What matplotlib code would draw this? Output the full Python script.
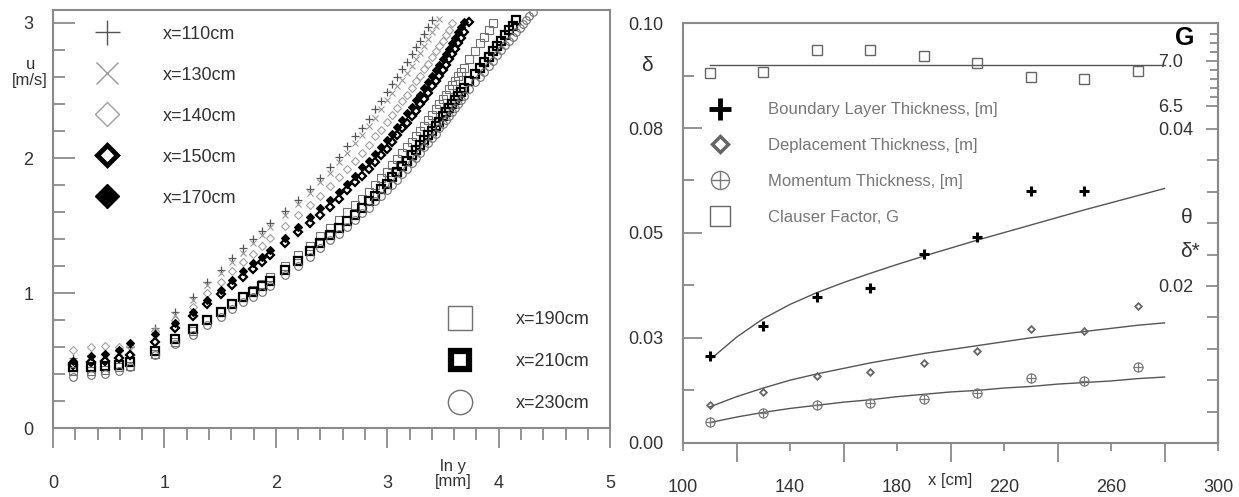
import numpy as np
import matplotlib.pyplot as plt
from matplotlib.lines import Line2D
from matplotlib.ticker import MultipleLocator, FixedLocator

plt.rcParams['font.family'] = ['Liberation Sans', 'DejaVu Sans']

# ---- left panel: velocity profiles u(ln y) at several stations ----
y_mm = [1.2, 1.4, 1.6, 1.8, 2.0, 2.5, 3.0, 3.5, 4.0, 4.5, 5.0, 5.5, 6.0, 6.5, 7.0, 8, 9,
        10, 11, 12, 13, 14, 15, 16, 17, 18, 19, 20, 21, 22, 23, 24, 25, 26, 27, 28, 29, 30,
        31, 32, 33, 34, 35, 36, 37, 38, 39, 40, 42, 44, 46, 48, 50, 52, 54, 56, 58, 60,
        62, 64, 66, 68, 70, 72, 74]

u_110 = [0.52, 0.54, 0.55, 0.57, 0.60, 0.74, 0.86, 0.97, 1.08, 1.17, 1.26, 1.33, 1.40, 1.46, 1.52, 1.61, 1.69,
         1.77, 1.85, 1.93, 2.01, 2.09, 2.16, 2.22, 2.29, 2.36, 2.42, 2.49,
         2.55, 2.60, 2.66, 2.71, 2.77, 2.82, 2.87, 2.92, 2.97, 3.02]
u_130 = [0.50, 0.52, 0.54, 0.56, 0.58, 0.72, 0.84, 0.95, 1.06, 1.15, 1.23, 1.30, 1.37, 1.43, 1.49, 1.58, 1.66,
         1.74, 1.82, 1.89, 1.97, 2.04, 2.11, 2.17, 2.24, 2.30, 2.36, 2.43,
         2.48, 2.53, 2.58, 2.63, 2.68, 2.73, 2.78, 2.83, 2.88, 2.93,
         2.98, 3.03]
u_140 = [0.58, 0.60, 0.61, 0.60, 0.61, 0.72, 0.80, 0.90, 1.00, 1.08, 1.16, 1.23, 1.29, 1.35, 1.41, 1.50, 1.58,
         1.65, 1.72, 1.79, 1.86, 1.92, 1.98, 2.04, 2.10, 2.16, 2.21, 2.27,
         2.32, 2.37, 2.42, 2.47, 2.52, 2.57, 2.61, 2.66, 2.70, 2.75,
         2.79, 2.83, 2.87, 2.91, 2.95, 3.00]
u_150 = [0.47, 0.49, 0.50, 0.52, 0.54, 0.64, 0.74, 0.83, 0.92, 0.99, 1.06, 1.12, 1.18, 1.23, 1.28, 1.37, 1.45,
         1.52, 1.58, 1.64, 1.70, 1.76, 1.82, 1.87, 1.92, 1.97, 2.02, 2.07,
         2.12, 2.17, 2.22, 2.26, 2.31, 2.35, 2.40, 2.44, 2.48, 2.53,
         2.57, 2.61, 2.65, 2.69, 2.73, 2.77, 2.81, 2.85, 2.89, 2.93,
         3.01]
u_170 = [0.50, 0.53, 0.55, 0.58, 0.63, 0.70, 0.78, 0.86, 0.95, 1.02, 1.10, 1.16, 1.22, 1.27, 1.32, 1.41, 1.49,
         1.56, 1.63, 1.69, 1.75, 1.81, 1.87, 1.93, 1.98, 2.03, 2.08, 2.13,
         2.18, 2.23, 2.28, 2.33, 2.38, 2.43, 2.47, 2.52, 2.56, 2.61,
         2.65, 2.69, 2.73, 2.77, 2.81, 2.85, 2.89, 2.93, 2.97, 3.01]
u_190 = [0.42, 0.42, 0.43, 0.45, 0.46, 0.55, 0.64, 0.72, 0.80, 0.86, 0.92, 0.97, 1.02, 1.07, 1.12, 1.20, 1.28,
         1.35, 1.42, 1.48, 1.54, 1.60, 1.65, 1.70, 1.75, 1.80, 1.85, 1.90,
         1.95, 1.99, 2.04, 2.08, 2.12, 2.16, 2.20, 2.24, 2.28, 2.32,
         2.36, 2.40, 2.44, 2.47, 2.51, 2.54, 2.57, 2.61, 2.64, 2.67,
         2.73, 2.79, 2.85, 2.90, 2.95, 3.00]
u_210 = [0.45, 0.45, 0.46, 0.47, 0.49, 0.57, 0.66, 0.73, 0.80, 0.86, 0.92, 0.97, 1.01, 1.05, 1.09, 1.17, 1.24,
         1.31, 1.37, 1.43, 1.48, 1.53, 1.58, 1.63, 1.68, 1.72, 1.77, 1.81,
         1.86, 1.90, 1.94, 1.98, 2.02, 2.06, 2.10, 2.13, 2.17, 2.20,
         2.24, 2.27, 2.31, 2.34, 2.37, 2.40, 2.43, 2.46, 2.49, 2.52,
         2.57, 2.62, 2.67, 2.71, 2.75, 2.79, 2.83, 2.87, 2.91, 2.95, 2.98, 3.02]
u_230 = [0.38, 0.39, 0.40, 0.42, 0.45, 0.54, 0.62, 0.69, 0.76, 0.82, 0.88, 0.93, 0.97, 1.01, 1.05, 1.13, 1.20,
         1.27, 1.33, 1.39, 1.44, 1.49, 1.54, 1.59, 1.63, 1.68, 1.72, 1.76,
         1.80, 1.84, 1.88, 1.92, 1.96, 2.00, 2.04, 2.08, 2.11, 2.15,
         2.18, 2.22, 2.25, 2.28, 2.31, 2.34, 2.37, 2.40, 2.43, 2.46,
         2.51, 2.56, 2.60, 2.64, 2.68, 2.72, 2.76, 2.80, 2.84, 2.87, 2.90, 2.93, 2.96, 2.99, 3.02, 3.05, 3.08]

station_labels = ["x=110cm", "x=130cm", "x=140cm", "x=150cm", "x=170cm",
                  "x=190cm", "x=210cm", "x=230cm"]
profiles = [u_110, u_130, u_140, u_150, u_170, u_190, u_210, u_230]

# marker style per station:
# (marker, size, edge width, edge colour, face colour, legend size, legend edge width)
station_style = [
    ('+', 5.5, 0.9, '#555555', 'none', 18, 1.0),
    ('x', 4.5, 0.8, '#999999', 'none', 16, 1.0),
    ('D', 4.0, 0.8, '#a0a0a0', 'none', 12.5, 1.0),
    ('D', 4.0, 1.6, 'black', 'none', 10.5, 3.5),
    ('D', 4.0, 0.8, 'black', 'black', 12.5, 1.0),
    ('s', 5.5, 0.8, '#707070', 'none', 17.5, 1.0),
    ('s', 5.5, 1.6, 'black', 'none', 13.0, 4.5),
    ('o', 5.5, 0.8, '#707070', 'none', 17.5, 1.0),
]

# ---- right panel: boundary-layer parameters vs x ----
x_station = [110, 130, 150, 170, 190, 210, 230, 250, 270]
delta_pts = [0.0207, 0.0279, 0.0348, 0.0369, 0.0450, 0.0490, 0.0600, 0.0600]
dstar_pts = [0.0048, 0.0065, 0.0085, 0.0090, 0.0102, 0.0117, 0.0145, 0.0143, 0.0175]
theta_pts = [0.0027, 0.0038, 0.0048, 0.0051, 0.0056, 0.0064, 0.0083, 0.0079, 0.0097]
G_pts = [6.87, 6.88, 7.12, 7.12, 7.06, 6.98, 6.82, 6.80, 6.89]

x_fit = [110, 120, 130, 140, 150, 160, 170, 180, 190, 200, 210, 220, 230, 240, 250, 260, 270, 280]
delta_fit = [0.0198, 0.0252, 0.0296, 0.0330, 0.0358, 0.0382, 0.0404, 0.0425, 0.0445, 0.0464,
             0.0483, 0.0501, 0.0519, 0.0537, 0.0555, 0.0572, 0.0589, 0.0606]
dstar_fit = [0.0046, 0.0059, 0.0070, 0.0080, 0.0088, 0.0095, 0.0102, 0.0108, 0.0114, 0.0119,
             0.0124, 0.0129, 0.0134, 0.0138, 0.0142, 0.0146, 0.0150, 0.0153]
theta_fit = [0.0026, 0.0033, 0.0039, 0.0044, 0.0048, 0.0052, 0.0055, 0.0059, 0.0062, 0.0065,
             0.0067, 0.0070, 0.0072, 0.0075, 0.0077, 0.0079, 0.0082, 0.0084]
G_fit_x = [110, 280]
G_fit = [6.96, 6.96]

delta_ticks = [0.0, 0.025, 0.05, 0.075, 0.10]
delta_ticklabels = ['0.00', '0.03', '0.05', '0.08', '0.10']

SPINE = '#8a8a8a'
TXT = '#333333'

fig = plt.figure(figsize=(12.39, 4.97), dpi=100)

# ================= left panel =================
ax1 = fig.add_axes([0.0428, 0.1388, 0.4496, 0.841])
ln_y = np.log(y_mm)
for u, lab, st in zip(profiles, station_labels, station_style):
    mk, ms, mew, mec, mfc = st[:5]
    ax1.plot(ln_y[:len(u)], u, linestyle='none', marker=mk, ms=ms, mew=mew,
             mec=mec, mfc=mfc, label=lab)

ax1.set_xlim(0, 5)
ax1.set_ylim(0, 3.096)
ax1.set_xticks([0, 1, 2, 3, 4, 5])
ax1.xaxis.set_minor_locator(MultipleLocator(0.2))
ax1.set_yticks([0, 1, 2, 3])
ax1.yaxis.set_minor_locator(MultipleLocator(0.2))
ax1.tick_params(axis='x', which='major', direction='out', length=14.5, width=1.3,
                color=SPINE, pad=19, labelsize=13, labelcolor=TXT)
ax1.tick_params(axis='x', which='minor', direction='out', length=8.5, width=1.3, color=SPINE)
ax1.tick_params(axis='y', which='major', direction='in', length=16, width=1.3,
                color=SPINE, pad=14, labelsize=13, labelcolor=TXT)
ax1.tick_params(axis='y', which='minor', direction='in', length=8.6, width=1.3, color=SPINE)
for s in ax1.spines.values():
    s.set_color(SPINE)
    s.set_linewidth(1.5)

ax1.text(-0.041, 0.85, "u\n[m/s]", transform=ax1.transAxes, ha='center', va='center',
         fontsize=12, color=TXT, linespacing=1.05)
ax1.text(0.718, -0.11, "ln y\n[mm]", transform=ax1.transAxes, ha='center', va='center',
         fontsize=12, color=TXT, linespacing=1.05)

handles, labels = ax1.get_legend_handles_labels()
leg1 = ax1.legend(handles[:5], labels[:5], loc='upper left', bbox_to_anchor=(0.0646, 0.963),
                  frameon=False, fontsize=13, handlelength=2.0,
                  handletextpad=2.1, labelspacing=1.33, borderpad=0, borderaxespad=0,
                  labelcolor=TXT)
leg2 = ax1.legend(handles[5:], labels[5:], loc='upper left', bbox_to_anchor=(0.698, 0.279),
                  frameon=False, fontsize=13, handlelength=2.0,
                  handletextpad=2.1, labelspacing=1.38, borderpad=0, borderaxespad=0,
                  labelcolor=TXT)
ax1.add_artist(leg1)
for h, st in zip(list(leg1.legend_handles) + list(leg2.legend_handles), station_style):
    h.set_markersize(st[5])
    h.set_markeredgewidth(st[6])

# ================= right panel =================
ax2 = fig.add_axes([0.5513, 0.1087, 0.4318, 0.845])
ax3 = ax2.twinx()   # theta, delta*
ax4 = ax2.twinx()   # Clauser factor G

ax2.plot(x_fit, delta_fit, color='#555555', lw=1.0)
h_delta, = ax2.plot(x_station[:len(delta_pts)], delta_pts, linestyle='none', marker='+',
                    ms=7, mew=2.2, color='black')

ax3.plot(x_fit, dstar_fit, color='#555555', lw=1.0)
ax3.plot(x_fit, theta_fit, color='#555555', lw=1.0)
h_dstar, = ax3.plot(x_station, dstar_pts, linestyle='none', marker='D', ms=3.4, mew=1.3,
                    mec='#666666', mfc='none')
# momentum thickness: circle with a cross
h_th_o, = ax3.plot(x_station, theta_pts, linestyle='none', marker='o', ms=6.5, mew=0.9,
                   mec='#7a7a7a', mfc='none')
h_th_p, = ax3.plot(x_station, theta_pts, linestyle='none', marker='+', ms=6.5, mew=0.9,
                   mec='#7a7a7a')

ax4.plot(G_fit_x, G_fit, color='#555555', lw=1.0)
h_G, = ax4.plot(x_station, G_pts, linestyle='none', marker='s', ms=6.5, mew=1.0,
                mec='#666666', mfc='none')

ax2.set_xlim(100, 300)
ax2.set_ylim(0, 0.1)
ax3.set_ylim(0, 0.0535)
ax4.set_ylim(2.756, 7.422)

ax2.set_xticks([100, 140, 180, 220, 260, 300])
ax2.xaxis.set_minor_locator(FixedLocator([120, 160, 200, 240, 280]))
ax2.set_yticks(delta_ticks)
ax2.set_yticklabels(delta_ticklabels)
ax2.yaxis.set_minor_locator(FixedLocator([0.0125, 0.0375, 0.0625, 0.0875]))
ax2.tick_params(axis='x', which='major', direction='out', length=6, width=1.3,
                color=SPINE, pad=20, labelsize=13, labelcolor=TXT)
ax2.tick_params(axis='x', which='minor', direction='out', length=14, width=1.3, color=SPINE)
ax2.tick_params(axis='y', which='major', direction='in', length=14, width=1.3,
                color=SPINE, pad=14, labelsize=13, labelcolor=TXT)
ax2.tick_params(axis='y', which='minor', direction='in', length=8, width=1.3, color=SPINE)

ax3.set_yticks([0.02, 0.04])
ax3.set_yticklabels(['0.02', '0.04'])
ax3.yaxis.set_minor_locator(FixedLocator([0.0, 0.004, 0.008, 0.012, 0.016, 0.024,
                                          0.028, 0.032, 0.036]))
ax3.tick_params(axis='y', which='major', direction='in', length=9, width=1.3,
                color=SPINE, pad=-43, labelsize=13, labelcolor=TXT)
ax3.tick_params(axis='y', which='minor', direction='in', length=8, width=1.3, color=SPINE)

ax4.set_yticks([6.5, 7.0])
ax4.set_yticklabels(['6.5', '7.0'])
ax4.yaxis.set_minor_locator(FixedLocator([6.6, 6.7, 6.8, 6.9, 7.1, 7.2, 7.3]))
ax4.tick_params(axis='y', which='major', direction='in', length=9, width=1.3,
                color=SPINE, pad=-43, labelsize=13, labelcolor=TXT)
ax4.tick_params(axis='y', which='minor', direction='in', length=6, width=1.3, color=SPINE)

for a in (ax2, ax3, ax4):
    for s in a.spines.values():
        s.set_color(SPINE)
        s.set_linewidth(1.5)
for a in (ax3, ax4):
    for side in ('left', 'top', 'bottom'):
        a.spines[side].set_visible(False)
ax2.spines['right'].set_visible(False)

ax2.text(-0.067, 0.898, "δ", transform=ax2.transAxes, ha='center', va='center',
         fontsize=15, color=TXT)
ax2.text(0.938, 0.964, "G", transform=ax2.transAxes, ha='center', va='center',
         fontsize=18, fontweight='bold', color='black')
ax2.text(0.942, 0.536, "θ", transform=ax2.transAxes, ha='center', va='center',
         fontsize=15, color=TXT)
ax2.text(0.948, 0.455, "δ*", transform=ax2.transAxes, ha='center', va='center',
         fontsize=15, color=TXT)
ax2.text(0.499, -0.0905, "x [cm]", transform=ax2.transAxes, ha='center', va='center',
         fontsize=12, color=TXT)

right_labels = ['Boundary Layer Thickness, [m]', 'Deplacement Thickness, [m]',
                'Momentum Thickness, [m]', 'Clauser Factor, G']
leg3 = ax4.legend([h_delta, h_dstar, (h_th_o, h_th_p), h_G], right_labels,
                  loc='upper left', bbox_to_anchor=(0.0374, 0.811), frameon=False,
                  fontsize=12, handlelength=2.0, handletextpad=1.9, labelspacing=1.25,
                  borderpad=0, borderaxespad=0, labelcolor='#777777')
# enlarge the legend symbols
for artist in leg3.findobj(Line2D):
    mk = artist.get_marker()
    if mk == '+' and artist.get_markeredgecolor() == 'black':
        artist.set_markersize(16)
        artist.set_markeredgewidth(3.5)
    elif mk == 'D':
        artist.set_markersize(8.5)
        artist.set_markeredgewidth(2.5)
    elif mk in ('o', '+'):
        artist.set_markersize(13)
        artist.set_markeredgewidth(1.0)
    elif mk == 's':
        artist.set_markersize(15)
        artist.set_markeredgewidth(1.0)

fig.savefig('out.png', dpi=100)
